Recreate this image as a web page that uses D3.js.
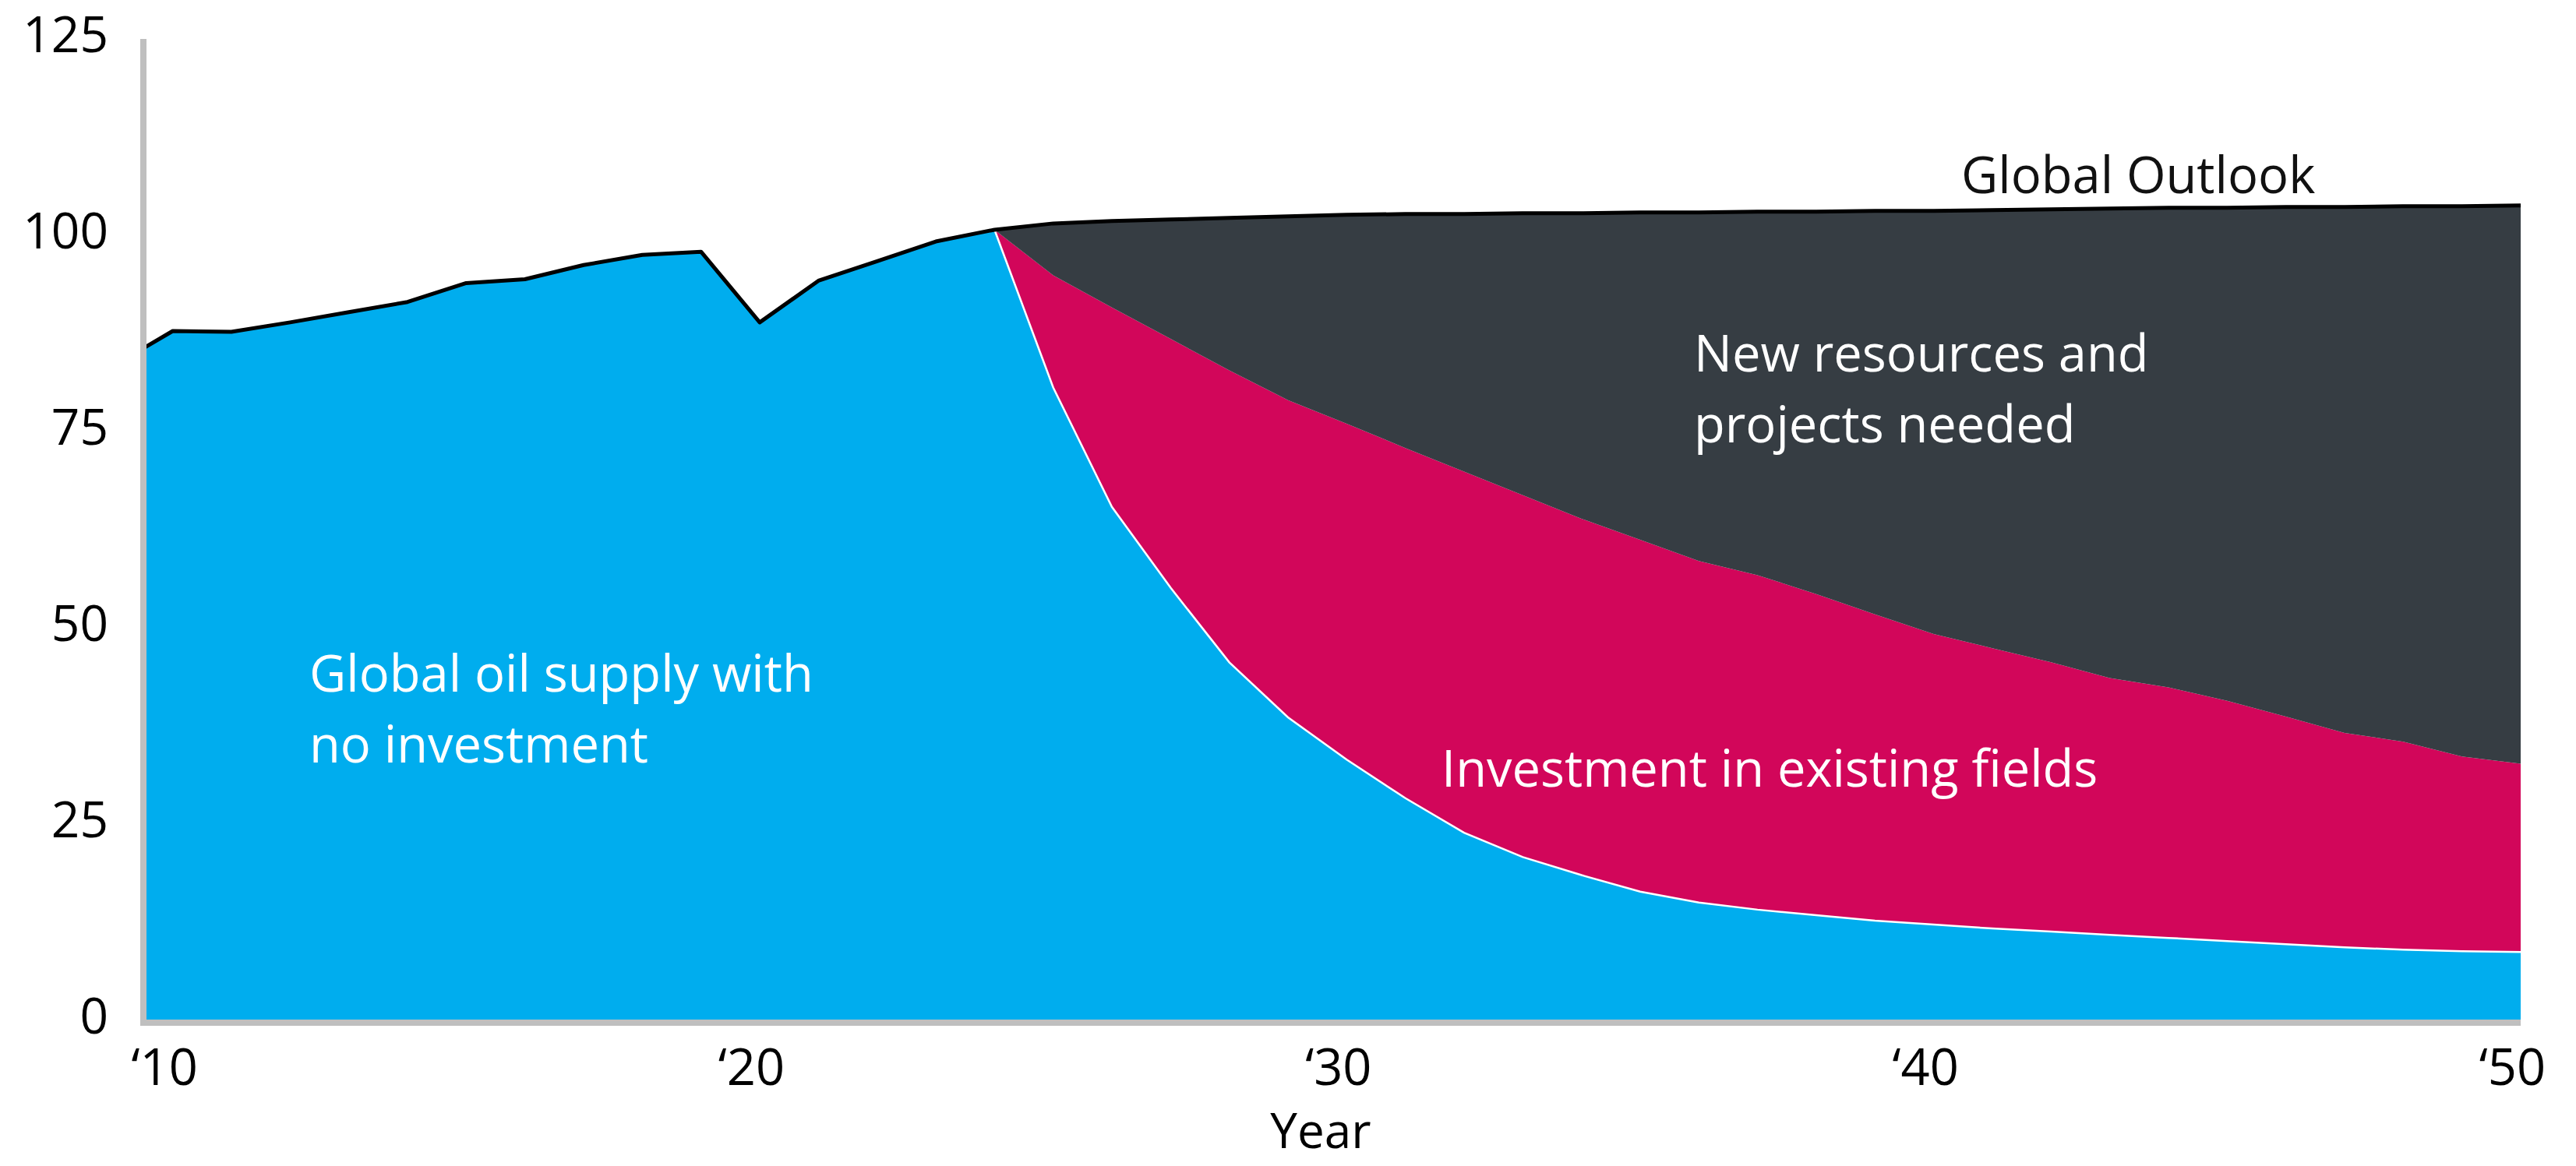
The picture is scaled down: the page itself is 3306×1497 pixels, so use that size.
<!DOCTYPE html>
<html>
<head>
<meta charset="utf-8">
<script src="https://cdn.jsdelivr.net/npm/d3@7"></script>
<style>
  html, body { margin: 0; padding: 0; background: #ffffff; }
  svg { display: block; }
  text { font-family: "Open Sans", "DejaVu Sans", sans-serif; }
</style>
</head>
<body>
<svg id="chart" width="3306" height="1497"></svg>
<script>
// ---------------- DATA ----------------
// First entry is the value at the left edge of the plot area.
const years = [2009.5, 2010, 2011, 2012, 2013, 2014, 2015, 2016, 2017, 2018, 2019, 2020,
  2021, 2022, 2023, 2024, 2025, 2026, 2027, 2028, 2029, 2030, 2031, 2032, 2033, 2034,
  2035, 2036, 2037, 2038, 2039, 2040, 2041, 2042, 2043, 2044, 2045, 2046, 2047, 2048,
  2049, 2050];

// Global oil supply with no investment (history = total supply)
const noInvestment = [85.6, 87.8, 87.7, 88.9, 90.2, 91.5, 93.9, 94.4, 96.2, 97.5, 97.9, 88.9,
  94.2, 96.7, 99.2, 100.7, 80.6, 65.4, 55.1, 45.6, 38.6, 33.2, 28.3, 23.9, 20.8, 18.5,
  16.4, 15.0, 14.1, 13.4, 12.7, 12.2, 11.7, 11.3, 10.9, 10.5, 10.1, 9.7, 9.3, 9.0,
  8.8, 8.7];

// Investment in existing fields
const existingFields = [0, 0, 0, 0, 0, 0, 0, 0, 0, 0, 0, 0,
  0, 0, 0, 0, 14.3, 25.4, 31.7, 37.2, 40.4, 42.8, 44.6, 46.0, 46.1, 45.4,
  44.8, 43.5, 42.6, 40.9, 39.0, 37.0, 35.7, 34.3, 32.7, 31.9, 30.6, 29.0, 27.3, 26.5,
  24.8, 24.0];

// New resources and projects needed
const newProjects = [0, 0, 0, 0, 0, 0, 0, 0, 0, 0, 0, 0,
  0, 0, 0, 0, 6.6, 11.0, 15.2, 19.4, 23.4, 26.6, 29.8, 32.8, 35.9, 38.9,
  41.7, 44.4, 46.3, 48.7, 51.4, 53.9, 55.8, 57.7, 59.8, 61.1, 62.8, 64.9, 67.0, 68.2,
  70.1, 71.1];

const seriesKeys = ["noInvestment", "existingFields", "newProjects"];
const seriesNames = ["Global oil supply with no investment", "Investment in existing fields",
  "New resources and projects needed"];
const yTickValues = [0, 25, 50, 75, 100, 125];
const xTickYears = [2010, 2020, 2030, 2040, 2050];
const xTickLabels = ["\u201810", "\u201820", "\u201830", "\u201840", "\u201850"];
const declineStartYear = 2024;

// ---------------- STYLE / LAYOUT ----------------
const colors = { noInvestment: "#00ADEE", existingFields: "#D2065A", newProjects: "#363D43" };
const axisGrey = "#BFBFBF";
const plot = { left: 184, right: 3235, top: 50, bottom: 1310 };

const table = years.map((yr, i) => ({
  year: yr,
  noInvestment: noInvestment[i],
  existingFields: existingFields[i],
  newProjects: newProjects[i]
}));

const svg = d3.select("#chart");
svg.append("rect").attr("width", 3306).attr("height", 1497).attr("fill", "#fff");

const x = d3.scaleLinear().domain([years[0], years[years.length - 1]]).range([plot.left, plot.right]);
const y = d3.scaleLinear().domain([0, 125]).range([plot.bottom, plot.top]);

const stacked = d3.stack().keys(seriesKeys)(table);

const area = d3.area()
  .x(d => x(d.data.year))
  .y0(d => y(d[0]))
  .y1(d => y(d[1]))
  .curve(d3.curveLinear);

svg.append("g").selectAll("path")
  .data(stacked)
  .join("path")
  .attr("fill", d => colors[d.key])
  .attr("d", area);

// white separator on top of the "no investment" area during the decline
const sepLine = d3.line()
  .x(d => x(d.year))
  .y(d => y(d.noInvestment));
svg.append("path")
  .datum(table.filter(d => d.year >= declineStartYear))
  .attr("fill", "none")
  .attr("stroke", "#ffffff")
  .attr("stroke-width", 2.5)
  .attr("d", sepLine);

// black outline of the total (Global Outlook)
const totalLine = d3.line()
  .x(d => x(d.year))
  .y(d => y(d.noInvestment + d.existingFields + d.newProjects));
svg.append("path")
  .datum(table)
  .attr("fill", "none")
  .attr("stroke", "#000000")
  .attr("stroke-width", 5)
  .attr("stroke-linejoin", "round")
  .attr("d", totalLine);

// ---------------- AXES ----------------
const yAxis = svg.append("g")
  .attr("transform", `translate(${plot.left},0)`)
  .call(d3.axisLeft(y).tickValues(yTickValues).tickSize(0).tickPadding(45).tickFormat(d3.format("d")));
yAxis.select(".domain")
  .attr("d", `M0,${y(125)}V${y(0) + 7}`)
  .attr("stroke", axisGrey).attr("stroke-width", 8);
yAxis.selectAll("text")
  .attr("font-size", 64)
  .attr("fill", "#000")
  .attr("dy", "0.25em");

const xAxis = svg.append("g")
  .attr("transform", `translate(0,${y(0) + 3})`)
  .call(d3.axisBottom(x).tickValues(xTickYears).tickSize(0)
    .tickFormat((d, i) => xTickLabels[i]));
xAxis.select(".domain")
  .attr("d", `M${plot.left - 4},0H${plot.right}`)
  .attr("stroke", axisGrey).attr("stroke-width", 8);
xAxis.selectAll("text")
  .attr("font-size", 65)
  .attr("fill", "#000")
  .attr("y", 80)
  .attr("dy", 0)
  .attr("dx", -11);

svg.append("text")
  .attr("x", 1695).attr("y", 1474)
  .attr("text-anchor", "middle")
  .attr("font-size", 62)
  .attr("fill", "#000")
  .text("Year");

// ---------------- ANNOTATIONS ----------------
const notes = [
  { lines: ["Global Outlook"], x: 2517, y: 248, fill: "#111" },
  { lines: ["New resources and", "projects needed"], x: 2174, y: 477, fill: "#fff" },
  { lines: ["Global oil supply with", "no investment"], x: 397, y: 888, fill: "#fff" },
  { lines: ["Investment in existing fields"], x: 1850, y: 1010, fill: "#fff" }
];
const lineGap = 91;
notes.forEach(n => {
  const t = svg.append("text")
    .attr("x", n.x).attr("y", n.y)
    .attr("font-size", 65)
    .attr("fill", n.fill);
  n.lines.forEach((ln, i) => {
    t.append("tspan").attr("x", n.x).attr("y", n.y + i * lineGap).text(ln);
  });
});
</script>
</body>
</html>
